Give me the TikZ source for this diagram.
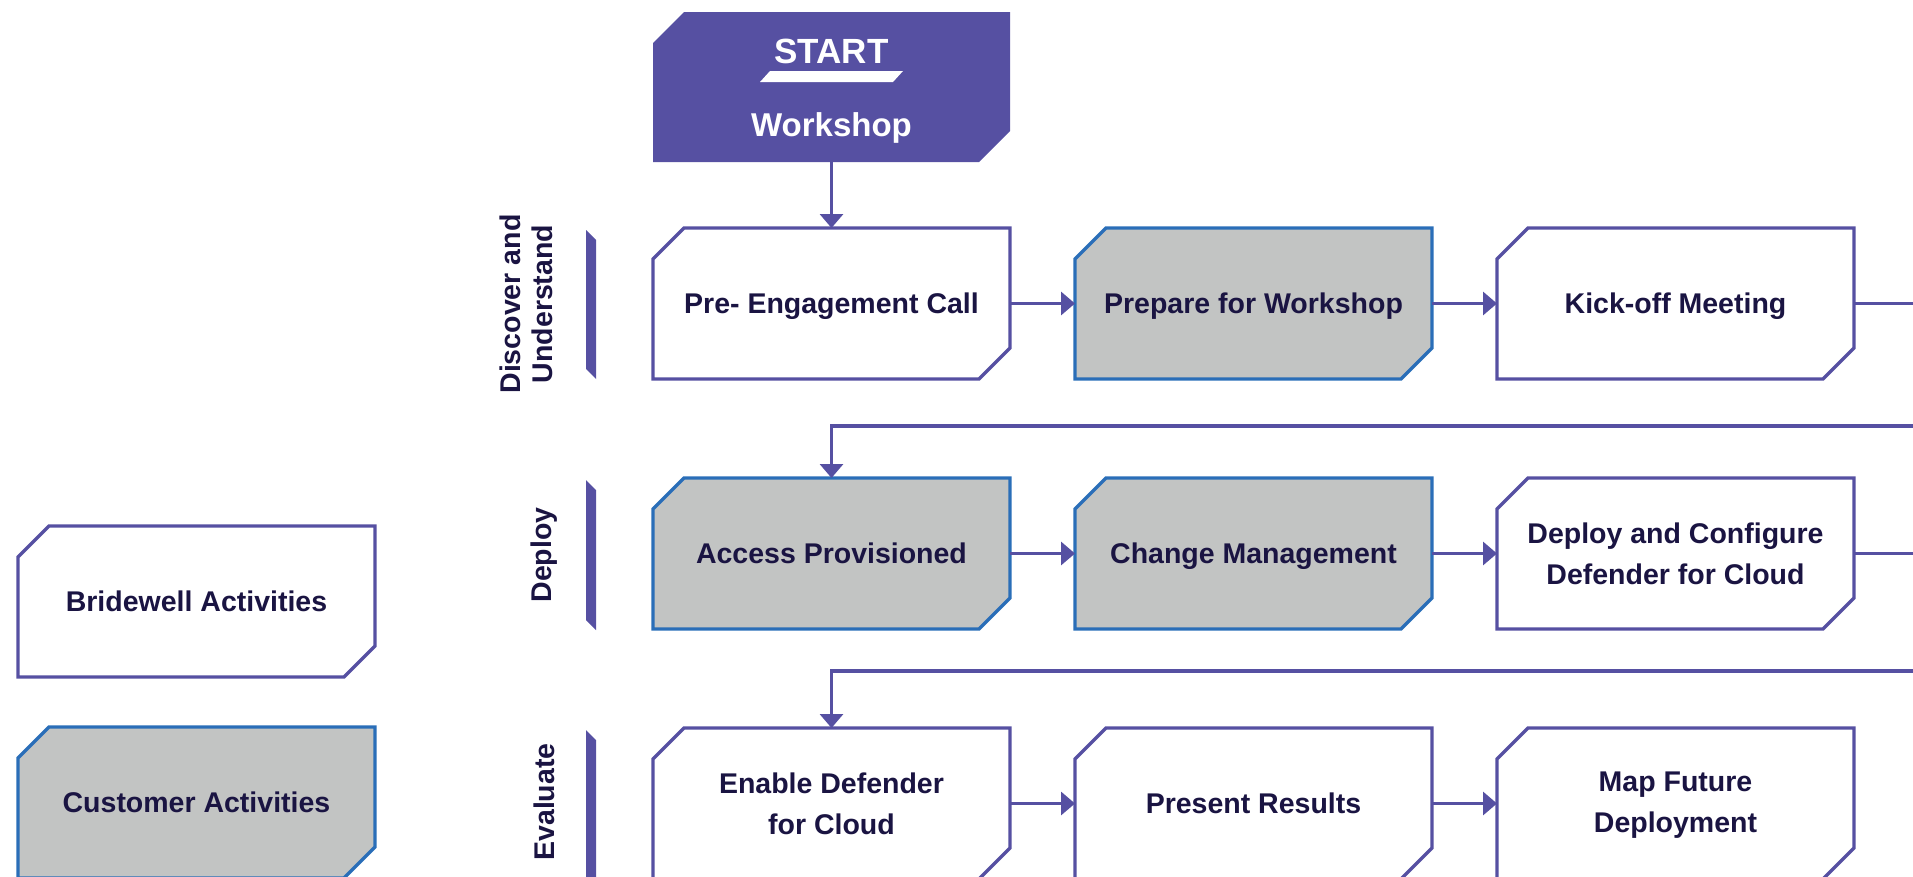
\documentclass[tikz,border=0pt]{standalone}
\usepackage{fontspec}
\setmainfont{Liberation Sans}
\usetikzlibrary{arrows.meta,calc}
\definecolor{brpurple}{RGB}{86,80,162}
\definecolor{brnavy}{RGB}{26,20,66}
\definecolor{brgray}{RGB}{194,196,195}
\definecolor{brblue}{RGB}{42,110,184}
\newcommand{\vstr}{\rule[-10pt]{0pt}{40pt}}
\tikzset{
  bwbox/.style={draw=brpurple, fill=white, line width=3.3pt},
  cubox/.style={draw=brblue, fill=brgray, line width=3.3pt},
  boxtext/.style={text=brnavy, font=\bfseries\fontsize{28.5}{41}\selectfont, align=center,
    minimum width=357pt, minimum height=151pt, inner sep=0pt, outer sep=0pt,
    execute at begin node=\vstr, execute at end node=\vstr},
  twoline/.style={label={[inner sep=0pt]center:}, yshift=-4pt},
  flow/.style={draw=brpurple, line width=3.3pt, -{Triangle[length=14pt,width=23pt]}},
  phasetext/.style={text=brnavy, font=\bfseries\fontsize{28.5}{32}\selectfont, rotate=90, align=center},
  starttext/.style={text=white, font=\bfseries\fontsize{35}{40}\selectfont, anchor=base}
}
\newcommand{\chbox}[6][]{%
  \path[#4] (#2,#3+31) -- (#2+31,#3) -- (#2+357,#3) -- (#2+357,#3+120) -- (#2+326,#3+151) -- (#2,#3+151) -- cycle;
  \node[boxtext] (#1) at (#2+178.5,#3+75.5) {};
}
\newcommand{\cbox}[6]{%
  \path[#4] (#2,#3+31) -- (#2+31,#3) -- (#2+357,#3) -- (#2+357,#3+120) -- (#2+326,#3+151) -- (#2,#3+151) -- cycle;
  \node[boxtext] (#1) at (#2+178.5,#3+75.5) {};
  \node[boxtext, minimum width=0pt, minimum height=0pt, #6] (#1-t) at (#1.center) {#5};
}
\begin{document}
\begin{tikzpicture}[x=1pt,y=-1pt]
\useasboundingbox (0,0) rectangle (1913,876);
\clip (0,0) rectangle (1913,876);

% start box
\path[fill=brpurple] (653,43) -- (684,12) -- (1010,12) -- (1010,131) -- (979,162) -- (653,162) -- cycle;
\node[minimum width=357pt, minimum height=150pt, inner sep=0pt, outer sep=0pt] (start) at (831.5,87) {};
\node[starttext] (starttxt) at (831.5,63) {START};
\fill[white] (770,71) -- (903,71) -- (893,82) -- (760,82) -- cycle;
\node[starttext, font=\bfseries\fontsize{33}{40}\selectfont] (worktxt) at (831.5,136) {Workshop};

% phase bars and labels
\fill[brpurple] (586,230) -- (596,240) -- (596,379) -- (586,369) -- cycle;
\fill[brpurple] (586,480) -- (596,490) -- (596,630) -- (586,620) -- cycle;
\fill[brpurple] (586,730) -- (596,740) -- (596,890) -- (586,880) -- cycle;
\node[phasetext] (ph1) at (526,304) {Discover and\\Understand};
\node[phasetext] (ph2) at (544,555) {Deploy};
\node[phasetext] (ph3) at (544,802) {Evaluate};

% row 1
\cbox{pre}{653}{228}{bwbox}{Pre- Engagement Call}{}
\cbox{prep}{1075}{228}{cubox}{Prepare for Workshop}{}
\cbox{kick}{1497}{228}{bwbox}{Kick-off Meeting}{}
% row 2
\cbox{access}{653}{478}{cubox}{Access Provisioned}{}
\cbox{change}{1075}{478}{cubox}{Change Management}{}
\cbox{deploy}{1497}{478}{bwbox}{Deploy and Configure\\Defender for Cloud}{yshift=-5pt}
% row 3
\cbox{enable}{653}{728}{bwbox}{Enable Defender\\for Cloud}{yshift=-5pt}
\cbox{present}{1075}{728}{bwbox}{Present Results}{}
\cbox{map}{1497}{728}{bwbox}{Map Future\\Deployment}{yshift=-4pt}
% legend
\cbox{legbw}{18}{526}{bwbox}{Bridewell Activities}{}
\cbox{legcu}{18}{727}{cubox}{Customer Activities}{}

% connectors
\draw[flow] (start.south) -- (pre.north);
\draw[flow] (pre.east) -- (prep.west);
\draw[flow] (prep.east) -- (kick.west);
\coordinate (r1) at (1935,426);
\draw[flow] (kick.east) -| (r1) -| (access.north);
\draw[flow] (access.east) -- (change.west);
\draw[flow] (change.east) -- (deploy.west);
\coordinate (r2) at (1935,671);
\draw[flow] (deploy.east) -| (r2) -| (enable.north);
\draw[flow] (enable.east) -- (present.west);
\draw[flow] (present.east) -- (map.west);
\end{tikzpicture}
\end{document}
